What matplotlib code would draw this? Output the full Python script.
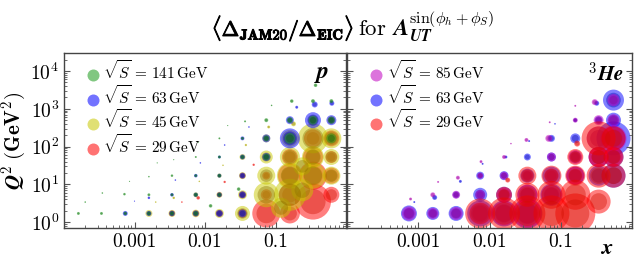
import numpy as np
import matplotlib
matplotlib.use("Agg")
import matplotlib.pyplot as plt
import matplotlib.patheffects as pe
from matplotlib.ticker import FixedLocator, FixedFormatter, LogLocator, NullFormatter

plt.rcParams["font.family"] = "serif"
plt.rcParams["font.serif"] = ["cmr10", "DejaVu Serif"]
plt.rcParams["mathtext.fontset"] = "cm"
plt.rcParams["axes.formatter.use_mathtext"] = True

# ── proton, sqrt(S) = 141 GeV ─────────────────────────────────────────────
P141_X = [1.6e-4, 3.4e-4, 2.0e-4, 3.5e-4, 7.4e-4, 7.2e-4, 8.5e-4, 1.6e-3, 1.6e-3, 1.6e-3,
          2.1e-3, 3.4e-3, 3.4e-3, 3.4e-3, 3.6e-3, 7.4e-3, 7.4e-3, 7.4e-3, 7.4e-3, 8.0e-3,
          1.2e-2, 1.6e-2, 1.6e-2, 1.6e-2, 1.6e-2, 2.1e-2, 3.0e-2, 3.4e-2, 3.4e-2, 3.7e-2,
          7.4e-2, 7.4e-2, 7.4e-2, 8.8e-2, 0.16, 0.16, 0.17, 0.34, 0.34, 0.37, 0.62, 0.62, 0.62]
P141_Q2 = [1.7, 1.7, 3.4, 5.9, 1.7, 5.5, 12, 1.7, 5.3, 16,
           37, 1.7, 5.3, 17, 45, 1.7, 5.3, 17, 53, 128,
           2.7, 5.3, 17, 53, 165, 360, 7.5, 53, 165, 465,
           53, 165, 500, 1230, 165, 500, 1600, 500, 1600, 4200, 500, 1600, 165]
P141_R = [1.5, 1.5, 0.8, 0.8, 1.8, 1.3, 0.6, 2.0, 1.5, 0.8,
          0.6, 2.2, 1.5, 1.3, 0.6, 2.5, 2.0, 1.5, 1.0, 0.6,
          1.8, 2.0, 1.8, 1.5, 1.0, 0.6, 1.8, 2.0, 1.5, 1.0,
          3.5, 3.0, 2.0, 0.8, 5.5, 3.0, 1.8, 4.5, 2.0, 1.8, 3.5, 2.0, 5.0]

# ── proton, sqrt(S) = 63 GeV ──────────────────────────────────────────────
P63_X = [7.4e-4, 1.0e-3, 1.6e-3, 1.6e-3, 3.4e-3, 3.4e-3, 3.8e-3, 7.4e-3, 7.4e-3, 7.4e-3,
         8.6e-3, 1.6e-2, 1.6e-2, 1.6e-2, 1.6e-2, 1.9e-2, 3.4e-2, 3.4e-2, 3.4e-2, 3.4e-2,
         3.4e-2, 4.2e-2, 7.4e-2, 7.4e-2, 0.16, 0.16, 0.20, 0.34, 0.36, 0.62, 0.63]
P63_Q2 = [1.7, 3.6, 4.4, 1.7, 1.7, 5.3, 13, 1.7, 5.3, 17,
          37, 1.7, 5.3, 17, 53, 110, 1.7, 5.3, 17, 53,
          165, 330, 165, 53, 165, 500, 1100, 500, 1300, 500, 1400]
P63_R = [2.5, 0.6, 1.3, 2.5, 2.8, 1.8, 0.8, 3.0, 2.2, 1.8,
         0.8, 3.5, 2.5, 2.0, 1.5, 0.8, 4.0, 3.5, 3.0, 2.5,
         2.0, 0.8, 4.0, 4.0, 10, 4.0, 1.5, 8.0, 3.0, 5.0, 2.5]

# ── proton, sqrt(S) = 45 GeV ──────────────────────────────────────────────
P45_X = [1.6e-3, 2.0e-3, 3.6e-3, 3.4e-3, 7.4e-3, 7.4e-3, 8.3e-3, 1.6e-2, 1.6e-2, 1.6e-2,
         1.8e-2, 3.4e-2, 3.4e-2, 3.4e-2, 3.4e-2, 3.8e-2, 7.4e-2, 7.4e-2, 7.4e-2, 7.4e-2,
         8.0e-2, 0.16, 0.16, 0.16, 0.16, 0.18, 0.34, 0.34, 0.34, 0.34,
         0.62, 0.62, 0.62, 0.62, 0.12, 0.24, 0.24]
P45_Q2 = [1.7, 3.4, 4.4, 1.7, 1.7, 5.3, 12, 1.7, 5.3, 17,
          32, 1.7, 5.3, 17, 53, 110, 5.3, 17, 53, 165,
          330, 5.3, 17, 53, 165, 400, 17, 53, 165, 500,
          17, 53, 165, 500, 2.4, 7.0, 30]
P45_R = [3.5, 0.8, 1.3, 3.5, 3.8, 2.5, 0.8, 4.5, 3.0, 2.2,
         0.8, 7.5, 4.5, 3.5, 3.0, 1.2, 12.5, 9.0, 6.5, 4.0,
         1.5, 16, 13, 10, 8.5, 2.5, 13, 11, 15, 5.0,
         9.0, 8.0, 10, 4.0, 10, 11, 9.0]

# ── proton, sqrt(S) = 29 GeV ──────────────────────────────────────────────
P29_X = [3.4e-3, 4.7e-3, 7.4e-3, 8.0e-3, 1.6e-2, 1.6e-2, 1.9e-2, 3.4e-2, 3.4e-2, 3.4e-2,
         4.9e-2, 7.4e-2, 7.4e-2, 7.4e-2, 7.4e-2, 0.16, 0.16, 0.16, 0.16, 0.16,
         0.34, 0.34, 0.34, 0.34, 0.34, 0.62, 0.62, 0.62, 0.62, 0.62]
P29_Q2 = [1.7, 3.4, 1.7, 4.4, 1.7, 5.3, 11.6, 1.7, 5.3, 17,
          33, 1.7, 5.3, 17, 53, 1.7, 5.3, 17, 53, 165,
          3.5, 17, 53, 165, 500, 5.3, 17, 53, 165, 500]
P29_R = [3.0, 0.8, 3.2, 1.8, 3.5, 2.5, 1.2, 4.5, 3.5, 3.0,
         1.2, 14, 5.5, 4.0, 3.0, 10, 11, 12, 8.0, 4.0,
         18, 14, 10, 9.0, 3.0, 8.0, 8.0, 6.0, 8.0, 2.5]

# ── 3He, sqrt(S) = 85 GeV ─────────────────────────────────────────────────
H85_X = [7.4e-4, 7.8e-4, 1.6e-3, 1.6e-3, 1.9e-3, 3.4e-3, 3.4e-3, 3.6e-3, 7.6e-3, 7.4e-3,
         7.4e-3, 7.4e-3, 1.6e-2, 1.6e-2, 1.6e-2, 1.6e-2, 2.0e-2, 3.3e-2, 3.4e-2, 3.4e-2,
         3.4e-2, 6.8e-2, 7.4e-2, 7.4e-2, 7.4e-2, 7.0e-2, 0.16, 0.16, 0.16, 0.16,
         0.30, 0.34, 0.34, 0.34, 0.55, 0.55, 0.55, 0.55]
H85_Q2 = [1.7, 4.1, 1.7, 5.3, 11.6, 1.7, 5.3, 15, 40, 1.7,
          5.3, 17, 1.7, 5.3, 17, 53, 120, 150, 1.7, 5.3,
          17, 165, 53, 17, 5.3, 440, 500, 53, 17, 1200,
          1500, 500, 165, 53, 1700, 500, 165, 53]
H85_R = [7.0, 1.5, 5.5, 2.5, 1.0, 6.5, 4.0, 2.0, 1.5, 11,
         5.0, 3.0, 12, 7.0, 4.0, 2.0, 0.8, 2.0, 14, 10,
         6.0, 3.5, 4.5, 7.0, 10, 1.0, 2.5, 7.0, 9.0, 1.0,
         3.0, 5.0, 12, 10, 6.0, 6.0, 13, 9.0]

# ── 3He, sqrt(S) = 63 GeV ─────────────────────────────────────────────────
H63_X = [7.4e-4, 8.8e-4, 1.6e-3, 1.7e-3, 3.4e-3, 3.4e-3, 3.9e-3, 8.0e-3, 7.4e-3, 7.4e-3,
         7.4e-3, 1.6e-2, 1.6e-2, 1.6e-2, 1.7e-2, 3.4e-2, 3.4e-2, 3.4e-2, 3.4e-2, 3.6e-2,
         7.4e-2, 7.4e-2, 7.4e-2, 7.4e-2, 8.3e-2, 0.16, 0.16, 0.16, 0.16, 0.34,
         0.32, 0.34, 0.34, 0.55, 0.55, 0.55, 0.55, 0.55]
H63_Q2 = [1.7, 3.4, 1.7, 4.5, 1.7, 5.3, 12, 35, 1.7, 5.3,
          17, 1.7, 5.3, 17, 53, 1.7, 5.3, 17, 53, 140,
          5.3, 17, 53, 165, 400, 17, 53, 165, 500, 500,
          1400, 53, 17, 1700, 500, 165, 53, 17]
H63_R = [8.0, 1.0, 6.5, 2.5, 7.5, 3.5, 1.5, 1.0, 13, 7.0,
         4.0, 13, 8.0, 4.5, 1.5, 15, 10, 7.0, 3.5, 1.0,
         11, 9.0, 4.5, 3.5, 0.8, 9.0, 6.0, 5.0, 2.0, 4.0,
         2.5, 10, 10, 10.5, 7.5, 17, 10, 12]

# ── 3He, sqrt(S) = 29 GeV ─────────────────────────────────────────────────
H29_X = [7.4e-3, 1.6e-2, 1.6e-2, 1.8e-2, 3.4e-2, 3.4e-2, 3.4e-2, 7.4e-2, 7.4e-2, 7.4e-2,
         0.17, 0.16, 0.16, 0.16, 0.16, 0.34, 0.34, 0.34, 0.34, 0.55, 0.55, 0.55]
H29_Q2 = [1.7, 1.7, 5.3, 13, 1.7, 5.3, 17, 1.7, 5.3, 17,
          120, 1.7, 5.3, 17, 53, 3.5, 17, 53, 165, 17, 53, 165]
H29_R = [15, 16, 8.0, 2.5, 18, 12, 9.0, 18, 14, 10,
         3.0, 20, 15, 10, 8.0, 12, 12, 10, 17, 12, 10, 12]

# (label, x, Q2, size, colour, inner-circle colour)
LEFT_SERIES = [("141", P141_X, P141_Q2, P141_R, "#1a9a1a", "#0c600c"),
               ("63", P63_X, P63_Q2, P63_R, "#0000ff", "#0000b0"),
               ("45", P45_X, P45_Q2, P45_R, "#c8c800", "#8a7000"),
               ("29", P29_X, P29_Q2, P29_R, "#ff0000", "#d01000")]
RIGHT_SERIES = [("85", H85_X, H85_Q2, H85_R, "#c000c0", "#900090"),
                ("63", H63_X, H63_Q2, H63_R, "#0000ff", "#0000b0"),
                ("29", H29_X, H29_Q2, H29_R, "#ff0000", "#d01000")]

XTICKS = [1e-3, 1e-2, 1e-1]
XTICKLABELS = ["0.001", "0.01", "0.1"]

PX = 0.72  # points per pixel at dpi=100


def area(r):
    return (2 * np.asarray(r) * PX) ** 2


def draw_panel(ax, series, order):
    for idx in order:
        lab, xs, qs, rs, col, dark = series[idx]
        ax.scatter(xs, qs, s=area(rs), color=col, alpha=0.5, lw=0)
        ax.scatter(xs, qs, s=area(np.asarray(rs) * 0.7), color=dark, alpha=0.4, lw=0)
    handles = []
    for lab, xs, qs, rs, col, dark in series:
        h = ax.scatter([], [], s=area(6), color=col, alpha=0.55, lw=0,
                       label=r"$\sqrt{S}\, =\, %s\,\mathrm{GeV}$" % lab)
        handles.append(h)
    ax.legend(handles=handles, loc="upper left", frameon=False, fontsize=11,
              handletextpad=-0.3, labelspacing=0.1, borderaxespad=0.3,
              bbox_to_anchor=(0.01, 1.025))

    ax.set_xscale("log")
    ax.set_yscale("log")
    ax.set_xlim(1e-4, 1.0)
    ax.set_ylim(0.7, 3e4)
    ax.xaxis.set_major_locator(FixedLocator(XTICKS))
    ax.xaxis.set_major_formatter(FixedFormatter(XTICKLABELS))
    ax.xaxis.set_minor_locator(LogLocator(base=10, subs=np.arange(2, 10), numticks=20))
    ax.xaxis.set_minor_formatter(NullFormatter())
    ax.yaxis.set_major_locator(LogLocator(base=10, numticks=10))
    ax.yaxis.set_minor_locator(LogLocator(base=10, subs=np.arange(2, 10), numticks=20))
    ax.yaxis.set_minor_formatter(NullFormatter())
    ax.tick_params(which="both", direction="in", top=False, right=True,
                   color="#555555", labelsize=14)
    ax.tick_params(which="major", length=4, width=0.8)
    ax.tick_params(which="minor", length=2, width=0.6)
    for sp in ax.spines.values():
        sp.set_color("#444444")
        sp.set_linewidth(1.0)


fig = plt.figure(figsize=(6.44, 2.68), dpi=100)
ax1 = fig.add_axes([64 / 644, 40 / 268, 282 / 644, 175 / 268])
ax2 = fig.add_axes([347 / 644, 40 / 268, 285 / 644, 175 / 268], sharey=ax1)

# lowest energy at the bottom, smaller high-energy dots on top
draw_panel(ax1, LEFT_SERIES, [3, 2, 1, 0])
draw_panel(ax2, RIGHT_SERIES, [1, 0, 2])
plt.setp(ax2.get_yticklabels(), visible=False)

ax1.set_ylabel(r"$\mathbfit{Q}^{\mathbf{2}}\ \mathbf{(GeV^{2})}$", fontsize=15, labelpad=2)
ax2.text(0.91, -0.06, r"$\mathbfit{x}$", transform=ax2.transAxes, fontsize=16,
         ha="center", va="top")
ax1.text(0.915, 0.88, r"$\mathbfit{p}$", transform=ax1.transAxes, fontsize=17,
         ha="center", va="center")
ax2.text(0.91, 0.88, r"$^{\mathbf{3}}\mathbfit{He}$", transform=ax2.transAxes, fontsize=15,
         ha="center", va="center")

bold = [pe.withStroke(linewidth=0.7, foreground="black")]
fig.text(354 / 644, 0.895,
         r"$\langle\mathbf{\Delta}_{\mathbf{JAM20}}/\mathbf{\Delta}_{\mathbf{EIC}}\rangle$",
         fontsize=15, ha="right", va="center", path_effects=bold)
fig.text(358 / 644, 0.9, r"for $\mathbfit{A}_{\mathbfit{UT}}^{\sin(\phi_h+\phi_S)}$",
         fontsize=16.5, ha="left", va="center")

fig.savefig("out.png", dpi=100)
